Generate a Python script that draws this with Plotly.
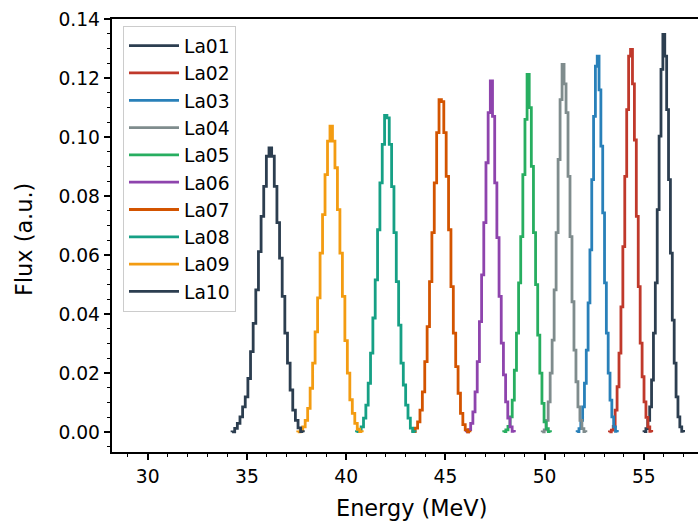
import numpy as np
import plotly.graph_objects as go

names = ["La01", "La02", "La03", "La04", "La05", "La06", "La07", "La08", "La09", "La10"]
colors = ["#2c3e50", "#c0392b", "#2980b9", "#7f8c8d", "#27ae60",
          "#8e44ad", "#d35400", "#16a085", "#f39c12", "#2c3e50"]

# left edge of first bin (MeV) and bin width (MeV) for each histogram
bin_start = [55.01, 53.264, 51.64, 49.88, 47.94, 46.055, 43.36, 40.52, 37.56, 34.25]
bin_width = [0.095, 0.097, 0.092, 0.100, 0.107, 0.110, 0.120, 0.118, 0.125, 0.133]

flux_la01 = [0.0002, 0.0012, 0.004, 0.0086, 0.0177, 0.0336, 0.0506, 0.0754, 0.1003, 0.1229,
             0.1348, 0.1274, 0.1093, 0.0856, 0.0607, 0.038, 0.0234, 0.012, 0.0052, 0.0018, 0.0003]
flux_la02 = [0.0001, 0.0007, 0.002, 0.0075, 0.0154, 0.0268, 0.0425, 0.0629, 0.0867, 0.1093, 0.1274,
             0.1297, 0.118, 0.099, 0.0731, 0.0493, 0.0302, 0.0188, 0.0103, 0.005, 0.0018, 0.0003]
flux_la03 = [0.0002, 0.0012, 0.004, 0.0086, 0.0166, 0.0278, 0.0438, 0.0618, 0.0856, 0.107, 0.124,
             0.1274, 0.116, 0.0969, 0.0743, 0.0506, 0.0336, 0.02, 0.0109, 0.0052, 0.0018, 0.0003]
flux_la04 = [0.0001, 0.0008, 0.004, 0.0103, 0.02, 0.0312, 0.0482, 0.0676, 0.0924, 0.1127,
             0.1246, 0.118, 0.1083, 0.0867, 0.0663, 0.0442, 0.0278, 0.0171, 0.0086, 0.004, 0.0012, 0.0002]
flux_la05 = [0.0002, 0.0008, 0.002, 0.0052, 0.0109, 0.021, 0.0336, 0.0506, 0.0663, 0.0873, 0.106,
             0.1212, 0.11, 0.0901, 0.0676, 0.05, 0.0329, 0.02, 0.0098, 0.0035, 0.0012, 0.0002]
flux_la06 = [0.0001, 0.0009, 0.003, 0.0069, 0.0137, 0.0239, 0.0375, 0.0533, 0.071, 0.0913, 0.1083,
             0.119, 0.107, 0.0845, 0.0659, 0.046, 0.0302, 0.0194, 0.0103, 0.0048, 0.0018, 0.0003]
flux_la07 = [0.0002, 0.0014, 0.0035, 0.0075, 0.0137, 0.0239, 0.0358, 0.051, 0.0676, 0.0845, 0.1015,
             0.1127, 0.112, 0.1015, 0.0867, 0.0686, 0.0493, 0.0336, 0.0222, 0.0132, 0.0064, 0.0026,
             0.0008, 0.0001]
flux_la08 = [0.0002, 0.0007, 0.0018, 0.0048, 0.0092, 0.0166, 0.0268, 0.0387, 0.0516, 0.0686, 0.0845,
             0.0975, 0.1073, 0.1065, 0.0975, 0.0832, 0.0676, 0.051, 0.0363, 0.0234, 0.016, 0.0092,
             0.0048, 0.0014, 0.0002]
flux_la09 = [0.0001, 0.0007, 0.0018, 0.004, 0.0081, 0.0149, 0.0234, 0.034, 0.0455, 0.0607, 0.0737,
             0.0873, 0.0986, 0.1037, 0.0986, 0.0896, 0.0754, 0.0607, 0.046, 0.031, 0.02, 0.011,
             0.0064, 0.003, 0.001, 0.0002]
flux_la10 = [0.0001, 0.0013, 0.003, 0.0052, 0.0086, 0.012, 0.0182, 0.0273, 0.0369, 0.0482, 0.0612,
             0.0731, 0.0833, 0.0935, 0.0963, 0.0935, 0.0833, 0.071, 0.059, 0.046, 0.0336, 0.0234,
             0.0143, 0.0075, 0.004, 0.0015, 0.0002]

fluxes = [flux_la01, flux_la02, flux_la03, flux_la04, flux_la05,
          flux_la06, flux_la07, flux_la08, flux_la09, flux_la10]

x_ticks = [30, 35, 40, 45, 50, 55]
y_ticks = [0.00, 0.02, 0.04, 0.06, 0.08, 0.10, 0.12, 0.14]

FONT = "DejaVu Sans"
TICK_FS = 18.7
LABEL_FS = 22.4

fig = go.Figure()
for i, (name, col, f) in enumerate(zip(names, colors, fluxes)):
    f = np.asarray(f)
    edges = bin_start[i] + bin_width[i] * np.arange(len(f) + 1)
    xs = np.concatenate([[edges[0]], edges])
    ys = np.concatenate([[0.0], f, [0.0]])
    fig.add_trace(go.Scatter(
        x=xs, y=ys, mode="lines", name=name, legendgroup=name,
        line=dict(color=col, width=2.8, shape="hv"),
    ))

L, T, B = 112, 19, 71
W, H = 698, 523
pw = W - L
ph = H - T - B

fig.update_layout(
    width=W, height=H,
    margin=dict(l=L, r=0, t=T, b=B, pad=0),
    paper_bgcolor="white", plot_bgcolor="white",
    font=dict(family=FONT, size=TICK_FS, color="black"),
    showlegend=True,
    legend=dict(
        x=(123 - L) / pw, y=1 - (26 - T) / ph, xanchor="left", yanchor="top",
        bgcolor="rgba(255,255,255,0.8)", bordercolor="#cccccc", borderwidth=1,
        font=dict(family=FONT, size=TICK_FS, color="black"),
        traceorder="grouped", tracegroupgap=0, itemwidth=50,
    ),
    xaxis=dict(
        range=[28.2, 57.73], tickmode="array", tickvals=x_ticks,
        ticks="outside", ticklen=6.5, tickwidth=1.5, tickcolor="black",
        showline=True, linecolor="black", linewidth=1.5, mirror=True,
        showgrid=False, zeroline=False,
        minor=dict(dtick=1, tick0=0, ticks="outside", ticklen=3.7, tickwidth=1.1,
                   tickcolor="black", showgrid=False),
    ),
    yaxis=dict(
        range=[-0.0067, 0.14], tickmode="array", tickvals=y_ticks, tickformat=".2f",
        ticks="outside", ticklen=6.5, tickwidth=1.5, tickcolor="black",
        showline=True, linecolor="black", linewidth=1.5, mirror=False,
        showgrid=False, zeroline=False,
        minor=dict(dtick=0.005, tick0=0, ticks="outside", ticklen=3.7, tickwidth=1.1,
                   tickcolor="black", showgrid=False),
    ),
    annotations=[
        dict(text="Energy (MeV)", xref="paper", yref="paper",
             x=(411 - L) / pw, y=-(508 - (T + ph)) / ph,
             xanchor="center", yanchor="middle", showarrow=False,
             font=dict(family=FONT, size=LABEL_FS, color="black")),
        dict(text="Flux (a.u.)", xref="paper", yref="paper",
             x=(24 - L) / pw, y=1 - (239 - T) / ph, textangle=-90,
             xanchor="center", yanchor="middle", showarrow=False,
             font=dict(family=FONT, size=LABEL_FS, color="black")),
    ],
)

fig.write_html("out.html")
